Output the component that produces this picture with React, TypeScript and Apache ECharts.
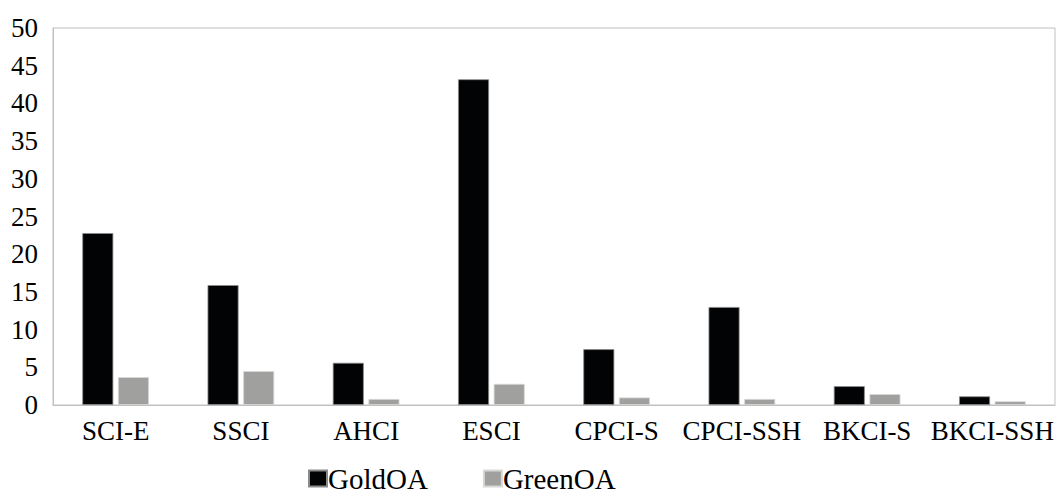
import React, { useEffect, useRef } from "react";
import * as echarts from "echarts";

const categories = ["SCI-E", "SSCI", "AHCI", "ESCI", "CPCI-S", "CPCI-SSH", "BKCI-S", "BKCI-SSH"];
const goldOA = [22.8, 15.9, 5.6, 43.2, 7.4, 13.0, 2.5, 1.15];
const greenOA = [3.7, 4.5, 0.8, 2.8, 1.0, 0.8, 1.45, 0.5];
const yTicks = { min: 0, max: 50, interval: 5 };

const FONT = "'Liberation Serif', 'DejaVu Serif', serif";

export default function App() {
  const ref = useRef<HTMLDivElement>(null);
  useEffect(() => {
    if (!ref.current) return;
    const chart = echarts.init(ref.current, undefined, { renderer: "svg" });
    chart.setOption({
      animation: false,
      backgroundColor: "#ffffff",
      textStyle: { fontFamily: FONT },
      grid: {
        left: 53,
        right: 5,
        top: 28,
        bottom: 92,
        show: true,
        borderColor: "#c0c0c0",
        borderWidth: 1,
        containLabel: false,
      },
      legend: {
        data: ["GoldOA", "GreenOA"],
        left: 308,
        top: 464,
        padding: 0,
        icon: "rect",
        itemWidth: 18,
        itemHeight: 16,
        itemGap: 55,
        textStyle: {
          fontFamily: FONT,
          fontSize: 29,
          lineHeight: 24,
          color: "#000",
          padding: [0, 0, 0, -4],
        },
      },
      xAxis: {
        type: "category",
        data: categories,
        axisLine: { show: true, lineStyle: { color: "#c0c0c0", width: 1 } },
        axisTick: { show: false },
        axisLabel: { fontFamily: FONT, fontSize: 27, color: "#000", margin: 12, interval: 0 },
      },
      yAxis: {
        type: "value",
        min: yTicks.min,
        max: yTicks.max,
        interval: yTicks.interval,
        axisLine: { show: true, lineStyle: { color: "#c0c0c0", width: 1 } },
        axisTick: { show: false },
        splitLine: { show: false },
        axisLabel: { fontFamily: FONT, fontSize: 27, color: "#000", margin: 15 },
      },
      series: [
        {
          name: "GoldOA",
          type: "bar",
          data: goldOA,
          barWidth: 31,
          barGap: "15%",
          itemStyle: { color: "#020305", borderColor: "#8a8a8a", borderWidth: 0.8 },
        },
        {
          name: "GreenOA",
          type: "bar",
          data: greenOA,
          barWidth: 31,
          itemStyle: { color: "#a0a09e", borderColor: "#d8d8d8", borderWidth: 0.8 },
        },
      ],
    });
    return () => chart.dispose();
  }, []);
  return (
    <div
      ref={ref}
      style={{ position: "fixed", left: 0, top: 0, width: 1060, height: 497, background: "#fff" }}
    />
  );
}
